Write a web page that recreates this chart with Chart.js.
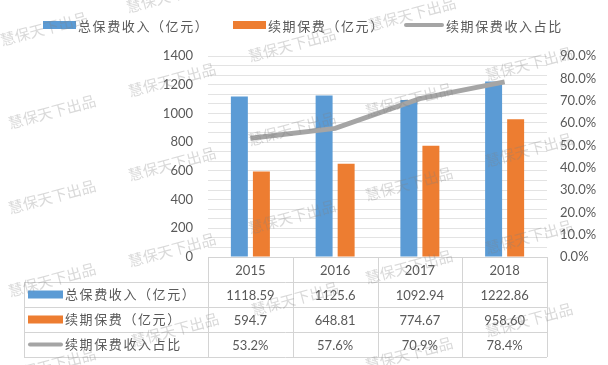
<!DOCTYPE html>
<html>
<head>
<meta charset="utf-8">
<script src="https://cdn.jsdelivr.net/npm/chart.js@4.4.0/dist/chart.umd.min.js"></script>
<style>
  html, body { margin: 0; padding: 0; background: #fff; }
  canvas { display: block; }
</style>
</head>
<body>
<canvas id="chart" width="608" height="365"></canvas>
<script>
// data
const years = ['2015', '2016', '2017', '2018'];
const totalText = ['1118.59', '1125.6', '1092.94', '1222.86'];
const renewalText = ['594.7', '648.81', '774.67', '958.60'];
const ratioText = ['53.2%', '57.6%', '70.9%', '78.4%'];
const seriesNames = ['总保费收入（亿元）', '续期保费（亿元）', '续期保费收入占比'];

const totalPremium = totalText.map(Number);
const renewalPremium = renewalText.map(Number);
const renewalRatio = ratioText.map(t => parseFloat(t));

const COLORS = ['#5b9bd5', '#ed7d31', '#a5a5a5'];
const TEXT = '#595959';
const NUM_FONT = "Lato, 'Noto Sans CJK SC', sans-serif";
const CJK_FONT = "'Noto Sans CJK SC', sans-serif";
const WATERMARK = '慧保天下出品';

// watermark spots (left, top of the tilted text)
const wmSpots = [
    [2, 12], [10, 95], [10, 180], [10, 263], [10, 348],
    [128, -21], [130, 63], [130, 147], [130, 233], [133, 313],
    [250, 28], [250, 112], [250, 200], [253, 282],
    [370, -3], [367, 83], [367, 167], [367, 250], [367, 337],
    [490, -35], [487, 47], [487, 133], [487, 220], [487, 303]
];

// draws a legend key: bar swatch or line
function drawKey(ctx, i, x, y, w) {
    if (i < 2) {
        ctx.fillStyle = COLORS[i];
        ctx.fillRect(x, y - 4, w, 8);
    } else {
        ctx.strokeStyle = COLORS[i];
        ctx.lineWidth = 4;
        ctx.lineCap = 'round';
        ctx.beginPath();
        ctx.moveTo(x + 2, y);
        ctx.lineTo(x + w - 2, y);
        ctx.stroke();
    }
}

function drawLabel(ctx, text, x, y) {
    ctx.fillStyle = TEXT;
    ctx.font = '13px ' + CJK_FONT;
    ctx.letterSpacing = '1.6px';
    ctx.textAlign = 'left';
    ctx.textBaseline = 'middle';
    ctx.fillText(text, x, y);
    ctx.letterSpacing = '0px';
}

const topLegend = {
    id: 'topLegend',
    afterDraw(chart) {
        const ctx = chart.ctx;
        ctx.save();
        const keys = [[43, 78], [233, 268], [404, 446]];
        keys.forEach(([kx, tx], i) => {
            drawKey(ctx, i, kx, 25, i < 2 ? 33 : 40);
            drawLabel(ctx, seriesNames[i], tx, 26);
        });
        ctx.restore();
    }
};

const dataTable = {
    id: 'dataTable',
    afterDraw(chart) {
        const { ctx, chartArea: a, scales } = chart;
        const n = years.length;
        const colW = (a.right - a.left) / n;
        const rowH = 25;
        const top = Math.round(a.bottom);
        const tableLeft = 24;
        const L = Math.round(a.left), R = Math.round(a.right);
        ctx.save();
        ctx.strokeStyle = '#d4d4d4';
        ctx.lineWidth = 1;
        ctx.beginPath();
        ctx.moveTo(L, top + 0.5); ctx.lineTo(R, top + 0.5);
        for (let r = 1; r <= 4; r++) {
            const y = top + rowH * r + 0.5;
            ctx.moveTo(tableLeft, y); ctx.lineTo(R, y);
        }
        for (let c = 0; c <= n; c++) {
            const x = Math.round(a.left + colW * c) + 0.5;
            ctx.moveTo(x, top); ctx.lineTo(x, top + rowH * 4);
        }
        ctx.moveTo(tableLeft + 0.5, top + rowH); ctx.lineTo(tableLeft + 0.5, top + rowH * 4);
        ctx.stroke();

        const rows = [totalText, renewalText, ratioText];
        rows.forEach((vals, r) => {
            const cy = top + rowH * (r + 1) + rowH / 2;
            drawKey(ctx, r, 28, cy, 35);
            drawLabel(ctx, seriesNames[r], 65, cy);
            ctx.fillStyle = TEXT;
            ctx.font = '13px ' + NUM_FONT;
            ctx.textAlign = 'center';
            ctx.textBaseline = 'middle';
            vals.forEach((v, i) => {
                ctx.fillText(v, scales.x.getPixelForValue(i), cy + 1);
            });
        });
        ctx.restore();
    }
};

const watermarks = {
    id: 'watermarks',
    afterDraw(chart) {
        const ctx = chart.ctx;
        ctx.save();
        ctx.font = '15px ' + CJK_FONT;
        ctx.fillStyle = 'rgba(128,128,128,0.3)';
        ctx.textAlign = 'left';
        ctx.textBaseline = 'alphabetic';
        wmSpots.forEach(([x, y]) => {
            ctx.save();
            ctx.translate(x, y + 34);
            ctx.rotate(-15 * Math.PI / 180);
            ctx.fillText(WATERMARK, 0, 0);
            ctx.restore();
        });
        ctx.restore();
    }
};

new Chart(document.getElementById('chart'), {
    data: {
        labels: years,
        datasets: [
            {
                type: 'line', label: seriesNames[2], data: renewalRatio, yAxisID: 'y1',
                borderColor: COLORS[2], borderWidth: 5, pointRadius: 0, tension: 0, order: 0
            },
            {
                type: 'bar', label: seriesNames[0], data: totalPremium, yAxisID: 'y',
                backgroundColor: COLORS[0], categoryPercentage: 0.52, barPercentage: 0.77, order: 1
            },
            {
                type: 'bar', label: seriesNames[1], data: renewalPremium, yAxisID: 'y',
                backgroundColor: COLORS[1], categoryPercentage: 0.52, barPercentage: 0.77, order: 1
            }
        ]
    },
    options: {
        responsive: false,
        animation: false,
        layout: { padding: { top: 56, left: 0, right: 0, bottom: 0 } },
        plugins: { legend: { display: false }, tooltip: { enabled: false } },
        scales: {
            x: {
                grid: { display: false, drawTicks: false },
                border: { display: false },
                ticks: { color: TEXT, font: { family: NUM_FONT, size: 13 }, padding: 6 },
                afterFit: s => { s.height = 108; }
            },
            y: {
                position: 'left', min: 0, max: 1400,
                grid: { color: '#e3e3e3', drawTicks: false },
                border: { display: false },
                ticks: {
                    count: 22, autoSkip: false, padding: 15, color: TEXT,
                    font: { family: NUM_FONT, size: 13 },
                    callback: v => {
                        const r = v / 200;
                        return Math.abs(r - Math.round(r)) < 1e-6 ? String(Math.round(r) * 200) : '';
                    }
                },
                afterFit: s => { s.width = 208; }
            },
            y1: {
                position: 'right', min: 0, max: 90,
                grid: { display: false, drawTicks: false },
                border: { display: false },
                ticks: {
                    stepSize: 10, padding: 13, color: TEXT,
                    font: { family: NUM_FONT, size: 13 },
                    callback: v => v.toFixed(1) + '%'
                },
                afterFit: s => { s.width = 61; }
            }
        }
    },
    plugins: [topLegend, dataTable, watermarks]
});
</script>
</body>
</html>
